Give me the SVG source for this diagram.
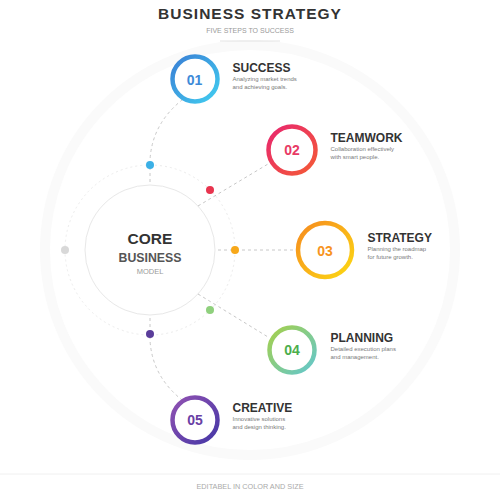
<svg xmlns="http://www.w3.org/2000/svg" width="500" height="500" viewBox="0 0 500 500">
<defs>
<linearGradient id="g1" x1="0" y1="0" x2="1" y2="1"><stop offset="0" stop-color="#3a7fd5"/><stop offset="1" stop-color="#41cdf0"/></linearGradient>
<linearGradient id="g2" x1="0" y1="0" x2="1" y2="1"><stop offset="0" stop-color="#e8276f"/><stop offset="1" stop-color="#f45a36"/></linearGradient>
<linearGradient id="g3" x1="0" y1="0" x2="1" y2="1"><stop offset="0" stop-color="#f68b1f"/><stop offset="1" stop-color="#fcd813"/></linearGradient>
<linearGradient id="g4" x1="0" y1="0" x2="1" y2="1"><stop offset="0" stop-color="#a6d04a"/><stop offset="1" stop-color="#62c7cf"/></linearGradient>
<linearGradient id="g5" x1="0" y1="0" x2="1" y2="1"><stop offset="0" stop-color="#9152b2"/><stop offset="1" stop-color="#4537a6"/></linearGradient>
</defs>
<style>
text{font-family:"Liberation Sans",Arial,sans-serif}
.ttl{font-size:12px;font-weight:bold;fill:#333}
.desc{font-size:6px;fill:#7a7a7a}
.num{font-size:14px;font-weight:bold;text-anchor:middle}
.ring{fill:#fff;stroke-width:4.5}
.dash{fill:none;stroke:#c8c8c8;stroke-width:1;stroke-dasharray:3 3}
</style>
<rect width="500" height="500" fill="#ffffff"/>
<circle cx="250" cy="250" r="205" fill="none" stroke="#fafafa" stroke-width="10"/>
<line x1="0" y1="474" x2="500" y2="474" stroke="#f0f0f0" stroke-width="1"/>

<g id="header">
<text x="250" y="18.5" text-anchor="middle" font-size="15.5" font-weight="bold" fill="#333" letter-spacing="1">BUSINESS STRATEGY</text>
<text x="250" y="33.3" text-anchor="middle" font-size="7" fill="#9a9a9a">FIVE STEPS TO SUCCESS</text>
<line x1="220" y1="41" x2="280" y2="41" stroke="#dddddd" stroke-width="0.8"/>
</g>

<g id="core">
<circle cx="150" cy="250" r="85" fill="none" stroke="#ececec" stroke-width="1" stroke-dasharray="2 3"/>
<circle cx="150" cy="250" r="65" fill="#ffffff" stroke="#e8e8e8" stroke-width="1"/>
<text x="150" y="244.3" text-anchor="middle" font-size="15.5" font-weight="bold" fill="#333">CORE</text>
<text x="150" y="261.7" text-anchor="middle" font-size="12.3" font-weight="bold" fill="#555">BUSINESS</text>
<text x="150" y="274.3" text-anchor="middle" font-size="7.5" fill="#9a9a9a">MODEL</text>
</g>

<g id="connectors">
<path class="dash" d="M150,182 L150,160 Q152,124 182,100"/>
<path class="dash" d="M198,206 L268,164"/>
<path class="dash" d="M218,250 L297,250"/>
<path class="dash" d="M198,294 L268,337"/>
<path class="dash" d="M150,318 L150,340 Q152,376 182,400"/>
<circle cx="150" cy="165" r="4" fill="#3bb0e6"/>
<circle cx="210" cy="190" r="4" fill="#e8344e"/>
<circle cx="235" cy="250" r="4" fill="#f7a81b"/>
<circle cx="210" cy="310" r="4" fill="#8fd07d"/>
<circle cx="150" cy="334" r="4" fill="#5a3d9a"/>
<circle cx="65" cy="250" r="4" fill="#d8d8d8"/>
</g>

<g id="step1">
<circle class="ring" cx="195" cy="79" r="22.5" stroke="url(#g1)"/>
<text class="num" x="194.5" y="84.5" fill="#3d8ad8">01</text>
<text class="ttl" x="232.5" y="71.7">SUCCESS</text>
<text class="desc" x="232.5" y="81">Analyzing market trends</text>
<text class="desc" x="232.5" y="89">and achieving goals.</text>
</g>

<g id="step2">
<circle class="ring" cx="292" cy="150" r="23.5" stroke="url(#g2)"/>
<text class="num" x="292" y="155" fill="#e83a64">02</text>
<text class="ttl" x="330.5" y="142">TEAMWORK</text>
<text class="desc" x="330.5" y="151">Collaboration effectively</text>
<text class="desc" x="330.5" y="159">with smart people.</text>
</g>

<g id="step3">
<circle class="ring" cx="325" cy="250" r="27" stroke="url(#g3)"/>
<text class="num" x="325" y="255.5" fill="#f7941d" font-size="15">03</text>
<text class="ttl" x="367.5" y="241.7">STRATEGY</text>
<text class="desc" x="367.5" y="251">Planning the roadmap</text>
<text class="desc" x="367.5" y="259">for future growth.</text>
</g>

<g id="step4">
<circle class="ring" cx="292" cy="350" r="22.5" stroke="url(#g4)"/>
<text class="num" x="292" y="355" fill="#4cae4c">04</text>
<text class="ttl" x="330.5" y="341.5">PLANNING</text>
<text class="desc" x="330.5" y="350.7">Detailed execution plans</text>
<text class="desc" x="330.5" y="358.7">and management.</text>
</g>

<g id="step5">
<circle class="ring" cx="195" cy="420" r="22.5" stroke="url(#g5)"/>
<text class="num" x="195" y="425" fill="#6a3fa5">05</text>
<text class="ttl" x="232.5" y="411.7">CREATIVE</text>
<text class="desc" x="232.5" y="420.7">Innovative solutions</text>
<text class="desc" x="232.5" y="428.7">and design thinking.</text>
</g>

<g id="footer">
<text x="250" y="489" text-anchor="middle" font-size="7.3" fill="#aaaaaa">EDITABEL IN COLOR AND SIZE</text>
</g>
</svg>
